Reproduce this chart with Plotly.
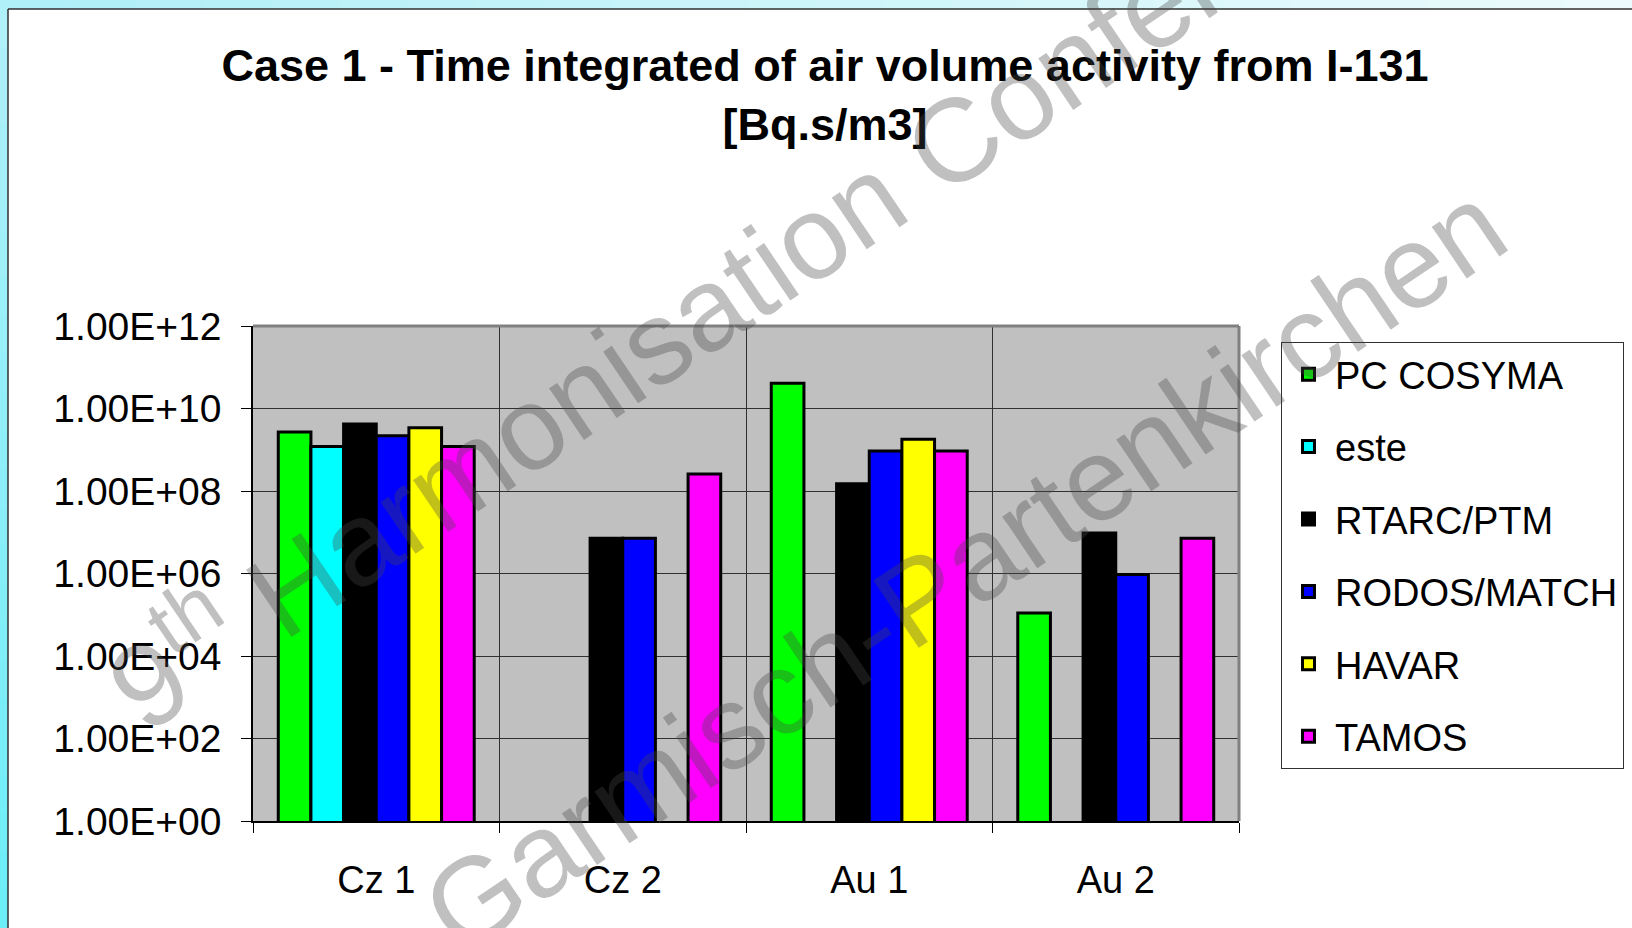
import plotly.graph_objects as go

# ---------------- data ----------------
categories = ["Cz 1", "Cz 2", "Au 1", "Au 2"]
series_names = ["PC COSYMA", "este", "RTARC/PTM", "RODOS/MATCH", "HAVAR", "TAMOS"]
pc_cosyma = [2.7e9, None, 4.1e10, 1.1e5]
este = [1.2e9, None, None, None]
rtarc_ptm = [4.2e9, 7.2e6, 1.5e8, 9.6e6]
rodos_match = [2.2e9, 7.2e6, 9.3e8, 9.5e5]
havar = [3.4e9, None, 1.8e9, None]
tamos = [1.2e9, 2.6e8, 9.3e8, 7.2e6]
series_values = [pc_cosyma, este, rtarc_ptm, rodos_match, havar, tamos]
series_colors = ["#00ff00", "#00ffff", "#000000", "#0000ff", "#ffff00", "#ff00ff"]
ytick_vals = [1e0, 1e2, 1e4, 1e6, 1e8, 1e10, 1e12]
ytick_text = ["1.00E+00", "1.00E+02", "1.00E+04", "1.00E+06", "1.00E+08", "1.00E+10", "1.00E+12"]

W, H = 1632, 928
L, R, T, B = 253, 1239, 326, 821
PW, PH = R - L, B - T


def xp(px):
    return (px - L) / PW


def yp(py):
    return (B - py) / PH


FONT = "Liberation Sans, Arial, sans-serif"

fig = go.Figure()
for name, vals, col in zip(series_names, series_values, series_colors):
    fig.add_trace(go.Bar(
        name=name, x=categories, y=vals, legendgroup=name,
        marker=dict(color=col, line=dict(color="black", width=3)),
    ))

shapes = []
# cyan page background strips
n = 24
for i in range(n):
    t = i / (n - 1)
    c = (int(176 + (236 - 176) * t), int(240 + (251 - 240) * t), int(248 + (253 - 248) * t))
    shapes.append(dict(type="rect", xref="paper", yref="paper",
                       x0=xp(i * W / n), x1=xp((i + 1) * W / n + 1), y0=yp(9), y1=yp(0),
                       line=dict(width=0), fillcolor="rgb(%d,%d,%d)" % c, layer="below"))
for i in range(n):
    t = i / (n - 1)
    c = (int(176 + (108 - 176) * t), int(240 + (238 - 240) * t), 248)
    shapes.append(dict(type="rect", xref="paper", yref="paper",
                       x0=xp(0), x1=xp(8), y0=yp(9 + (i + 1) * (H - 9) / n + 1), y1=yp(9 + i * (H - 9) / n),
                       line=dict(width=0), fillcolor="rgb(%d,%d,%d)" % c, layer="below"))
# chart border
shapes.append(dict(type="line", xref="paper", yref="paper", x0=xp(8), x1=xp(W + 5), y0=yp(9), y1=yp(9),
                   line=dict(color="#303030", width=1.5)))
shapes.append(dict(type="line", xref="paper", yref="paper", x0=xp(8), x1=xp(8), y0=yp(9), y1=yp(H + 5),
                   line=dict(color="#303030", width=1.5)))
# plot frame (top/right grey)
shapes.append(dict(type="line", xref="paper", yref="paper", x0=0, x1=1, y0=1, y1=1,
                   line=dict(color="#808080", width=3), layer="above"))
shapes.append(dict(type="line", xref="paper", yref="paper", x0=1, x1=1, y0=0, y1=1,
                   line=dict(color="#808080", width=3), layer="above"))

wm_color = "rgba(70,70,70,0.34)"
annotations = [
    dict(text="9<sup>th</sup> Harmonisation Conference", xref="paper", yref="paper",
         x=xp(768), y=yp(256), showarrow=False, textangle=-34,
         font=dict(family=FONT, size=118, color=wm_color), xanchor="center", yanchor="middle"),
    dict(text="Garmisch-Partenkirchen", xref="paper", yref="paper",
         x=xp(964), y=yp(568), showarrow=False, textangle=-34,
         font=dict(family=FONT, size=118, color=wm_color), xanchor="center", yanchor="middle"),
]

fig.update_layout(
    width=W, height=H,
    margin=dict(l=L, r=W - R, t=T, b=H - B, autoexpand=False),
    paper_bgcolor="white", plot_bgcolor="#c0c0c0",
    font=dict(family=FONT, color="black"),
    title=dict(text="<b>Case 1 - Time integrated of air volume activity from I-131<br>[Bq.s/m3]</b>",
               x=825 / W, xanchor="center", xref="container",
               y=1 - 81 / H, yanchor="top", yref="container",
               font=dict(size=45, family=FONT, color="black")),
    barmode="group", bargap=0.205, bargroupgap=0,
    showlegend=True,
    legend=dict(x=xp(1281), y=yp(342), xanchor="left", yanchor="top",
                bgcolor="white", bordercolor="#303030", borderwidth=1,
                font=dict(size=38, family=FONT, color="black"),
                traceorder="grouped", tracegroupgap=20, itemwidth=43),
    xaxis=dict(type="category", tickson="boundaries", ticks="outside", ticklen=10, tickcolor="black",
               showgrid=True, gridcolor="#303030", gridwidth=1,
               showline=True, linecolor="black", linewidth=1.5,
               tickfont=dict(size=38, family=FONT, color="black"), ticklabelstandoff=25),
    yaxis=dict(type="log", range=[0, 12], tickvals=ytick_vals, ticktext=ytick_text,
               ticks="outside", ticklen=10, tickcolor="black",
               showgrid=True, gridcolor="#303030", gridwidth=1, zeroline=False,
               showline=True, linecolor="black", linewidth=1.5,
               tickfont=dict(size=39, family=FONT, color="black"), ticklabelstandoff=12),
    shapes=shapes,
    annotations=annotations,
)

fig.write_html("out.html", config={"displayModeBar": False},
               post_script="document.body.style.margin='0px';")
